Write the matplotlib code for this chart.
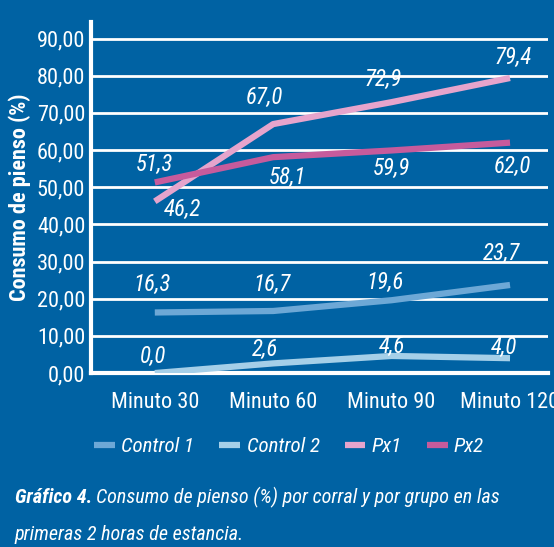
import numpy as np
import matplotlib
matplotlib.use("Agg")
import matplotlib.pyplot as plt

# data
categorias = ["Minuto 30", "Minuto 60", "Minuto 90", "Minuto 120"]
control1 = [16.3, 16.7, 19.6, 23.7]
control2 = [0.0, 2.6, 4.6, 4.0]
px1 = [46.2, 67.0, 72.9, 79.4]
px2 = [51.3, 58.1, 59.9, 62.0]
nombres = ["Control 1", "Control 2", "Px1", "Px2"]

# label offsets (points) from each point
off_c1 = [(-2, 20), (-1, 19), (-5, 13), (-6, 23)]
off_c2 = [(-1, 12), (-6, 10), (0, 7), (-4, 8)]
off_px1 = [(20, -6), (-6, 19), (-6, 16), (2, 15)]
off_px2 = [(0, 13), (10, -15), (0, -13), (2, -17)]

plt.rcParams['font.family'] = ['Roboto Condensed', 'DejaVu Sans']

bg = "#0062A3"
colores = ["#6DA8D6", "#A5CFE8", "#E6A4CC", "#C65B9C"]

fig = plt.figure(figsize=(5.54, 5.47), dpi=100, facecolor=bg)
ax = fig.add_axes([0.164, 0.318, 0.825, 0.642])
ax.set_facecolor(bg)

x = np.arange(len(categorias))
series = [control1, control2, px1, px2]
offsets = [off_c1, off_c2, off_px1, off_px2]
for vals, col, nom in zip(series, colores, nombres):
    ax.plot(x, vals, color=col, lw=4.5, label=nom, solid_capstyle="butt", zorder=3)

for vals, offs in zip(series, offsets):
    for xi, v, o in zip(x, vals, offs):
        ax.annotate(f"{v:.1f}".replace(".", ","), (xi, v), xytext=o,
                    textcoords="offset points", ha="center", va="center",
                    color="white", fontsize=16.5, style="italic", zorder=4)

ax.set_xlim(-0.54, 3.32)
ax.set_ylim(0, 94.5)
ax.set_yticks(np.arange(0, 100, 10))
ax.set_yticklabels([f"{t:.2f}".replace(".", ",") for t in np.arange(0, 100, 10)])
ax.set_xticks(x)
ax.set_xticklabels(categorias)
ax.tick_params(length=0, colors="white", labelsize=16)
ax.tick_params(axis="y", pad=4)
ax.tick_params(axis="x", pad=14)
for t in np.arange(10, 100, 10):
    ax.axhline(t, color="white", lw=2, zorder=1)
for s in ["top", "right"]:
    ax.spines[s].set_visible(False)
for s in ["left", "bottom"]:
    ax.spines[s].set_color("white")
    ax.spines[s].set_linewidth(3)

ax.set_ylabel("Consumo de pienso (%)", color="white", fontsize=16, fontweight="bold", labelpad=4)

leg = fig.legend(loc="center", bbox_to_anchor=(0.522, 0.183), ncol=4, frameon=False,
                 handlelength=1.0, columnspacing=1.2, handletextpad=0.3,
                 prop={"size": 15, "style": "italic"})
for t in leg.get_texts():
    t.set_color("white")

fig.canvas.draw()
t1 = fig.text(0.027, 0.09, "Gráfico 4.", color="white", fontsize=14.5,
              fontweight="bold", style="italic", va="center")
r = fig.canvas.get_renderer()
bb = t1.get_window_extent(r)
fig.text((bb.x1 + 4) / fig.bbox.width, 0.09,
         "Consumo de pienso (%) por corral y por grupo en las",
         color="white", fontsize=14.5, style="italic", va="center")
fig.text(0.027, 0.022, "primeras 2 horas de estancia.", color="white",
         fontsize=14.5, style="italic", va="center")

fig.savefig("out.png", dpi=100, facecolor=bg)
